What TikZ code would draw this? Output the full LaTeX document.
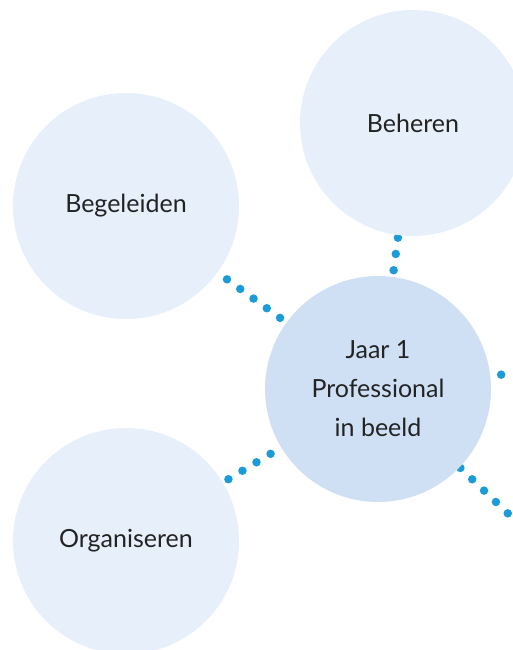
\documentclass[tikz,border=0pt]{standalone}
\usepackage{fontspec}
\setmainfont{Lato}
\usetikzlibrary{backgrounds}
\definecolor{lightbub}{RGB}{230,239,250}
\definecolor{mainbub}{RGB}{207,224,245}
\definecolor{dotblue}{RGB}{27,155,215}
\definecolor{txt}{RGB}{35,35,35}
\tikzset{
  bubble/.style={circle, fill=lightbub, minimum size=226pt, inner sep=0pt, text=txt,
    font=\fontsize{25}{39}\selectfont, align=center},
  hub/.style={bubble, fill=mainbub},
  dotline/.style={dotblue, line width=8.5pt, line cap=round, dash pattern=on 0pt off 16.4pt}
}
\begin{document}
\begin{tikzpicture}[x=1pt,y=-1pt]
\useasboundingbox (0,0) rectangle (512,650);
\node[bubble] (beg) at (126,206) {Begeleiden};
\node[bubble] (beh) at (413,123) {Beheren};
\node[bubble] (org) at (126,541) {Organiseren};
\node[hub] (hub) at (378,389) {Jaar 1\\Professional\\in beeld};
\coordinate (re) at (610,362);
\coordinate (lr) at (522,527);
\begin{scope}[on background layer]
\draw[dotline, dash phase=4.8pt] (beg) -- (hub);
\draw[dotline, dash phase=13.9pt] (beh) -- (hub);
\draw[dotline, dash phase=10pt] (org) -- (hub);
\draw[dotline, dash phase=5.6pt] (hub) -- (re);
\draw[dotline, dash phase=15.5pt] (hub) -- (lr);
\end{scope}
\end{tikzpicture}
\end{document}
